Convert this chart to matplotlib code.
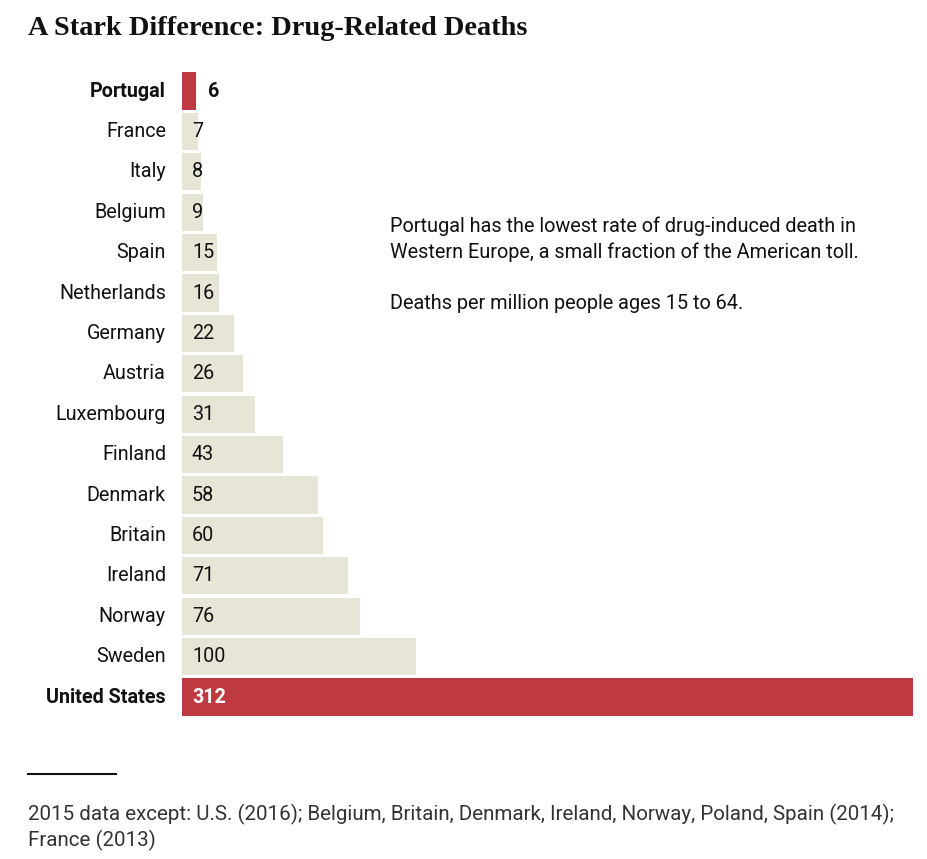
import matplotlib.pyplot as plt

countries = ['Portugal', 'France', 'Italy', 'Belgium', 'Spain', 'Netherlands',
             'Germany', 'Austria', 'Luxembourg', 'Finland', 'Denmark', 'Britain',
             'Ireland', 'Norway', 'Sweden', 'United States']
deaths = [6, 7, 8, 9, 15, 16, 22, 26, 31, 43, 58, 60, 71, 76, 100, 312]
highlight = ['Portugal', 'United States']

RED = '#bf3a40'
BEIGE = '#e7e5d6'
FONT = 'Roboto'

fig = plt.figure(figsize=(9.27, 8.59), dpi=100)
ax = fig.add_axes([182 / 927, 1 - 717.2 / 859, 731 / 927, 646.4 / 859])

colors = [RED if c in highlight else BEIGE for c in countries]
ypos = list(range(len(countries)))
ax.barh(ypos, deaths, height=0.92, color=colors)
ax.set_xlim(0, max(deaths))
ax.set_ylim(len(countries) - 0.5, -0.5)
ax.axis('off')

px = max(deaths) / 731  # data units per pixel
for i, (c, v) in enumerate(zip(countries, deaths)):
    bold = c in highlight
    ax.text(-16 * px, i, c, ha='right', va='center', fontsize=14.2,
            family=FONT, fontweight='bold' if bold else 'normal', color='#111111')
    if c == 'Portugal':
        ax.text(v + 12 * px, i, str(v), ha='left', va='center', fontsize=14.2,
                family=FONT, fontweight='bold', color='#111111')
    elif c == 'United States':
        ax.text(10 * px, i, str(v), ha='left', va='center', fontsize=14.2,
                family=FONT, fontweight='bold', color='white')
    else:
        ax.text(10 * px, i, str(v), ha='left', va='center', fontsize=14.2,
                family=FONT, color='#111111')

# title
fig.text(28 / 927, 1 - 28.5 / 859, 'A Stark Difference: Drug-Related Deaths',
         ha='left', va='center', fontsize=20.4, family='Liberation Serif',
         fontweight='bold', color='#111111')

# annotation
fig.text(390 / 927, 1 - 239.5 / 859,
         'Portugal has the lowest rate of drug-induced death in\n'
         'Western Europe, a small fraction of the American toll.',
         ha='left', va='center', fontsize=14.3, family=FONT, color='#111111',
         linespacing=1.42)
fig.text(390 / 927, 1 - 303.5 / 859, 'Deaths per million people ages 15 to 64.',
         ha='left', va='center', fontsize=14.3, family=FONT, color='#111111')

# footnote
fig.add_artist(plt.Line2D([28 / 927, 116 / 927], [1 - 774 / 859, 1 - 774 / 859],
                          color='#111111', linewidth=1.5))
fig.text(28 / 927, 1 - 827 / 859,
         '2015 data except: U.S. (2016); Belgium, Britain, Denmark, Ireland, Norway, Poland, Spain (2014);\n'
         'France (2013)',
         ha='left', va='center', fontsize=14.8, family=FONT, color='#333333',
         linespacing=1.3)

fig.savefig('out.png', dpi=100)
